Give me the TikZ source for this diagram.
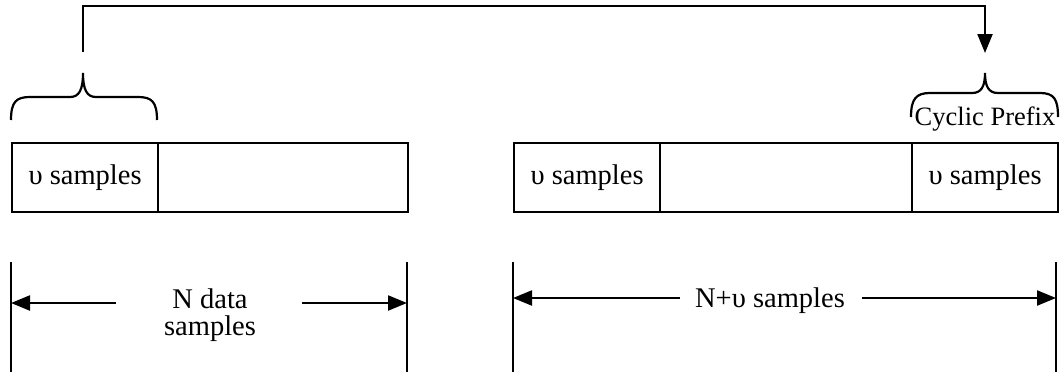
\documentclass[tikz,border=0pt]{standalone}
\usepackage{fontspec}
\setmainfont{Liberation Serif}
\usetikzlibrary{arrows.meta}
\begin{document}
\begin{tikzpicture}[x=1pt,y=-1pt,
  ln/.style={line width=2.2pt},
  cell/.style={draw,line width=2.2pt,minimum height=69pt,inner sep=0pt,anchor=north west},
  lbl/.style={font=\fontsize{28.5}{31}\selectfont,inner sep=0pt},
  tip/.style={-{Triangle[length=19pt,width=15pt]}}]
\useasboundingbox (0,0) rectangle (1060,375);
% left frame
\node[cell,minimum width=146pt] (a1) at (11,142) {};
\node[cell,minimum width=250pt] (a2) at (157,142) {};
\node[lbl] (ta1) at (a1.center) {υ samples};
% right frame
\node[cell,minimum width=146pt] (b1) at (513,142) {};
\node[cell,minimum width=252pt] (b2) at (659,142) {};
\node[cell,minimum width=146pt] (b3) at (911,142) {};
\node[lbl] (tb1) at (b1.center) {υ samples};
\node[lbl] (tb3) at (b3.center) {υ samples};
% braces
\draw[ln] (11,120) .. controls (11,102) and (16,97) .. (30,97) -- (70,97)
  .. controls (79,97) and (83,90) .. (83,73)
  .. controls (83,90) and (87,97) .. (96,97) -- (138,97)
  .. controls (152,97) and (157,102) .. (157,120);
\draw[ln] (911,117) .. controls (911,99) and (916,93) .. (930,93) -- (972,93)
  .. controls (981,93) and (985,87) .. (985,73)
  .. controls (985,87) and (989,93) .. (998,93) -- (1040,93)
  .. controls (1054,93) and (1058,99) .. (1058,117);
\node[lbl,font=\fontsize{26.5}{29}\selectfont,anchor=base] (cp) at (985,125) {Cyclic Prefix};
% top connector
\coordinate (src) at (83,52);
\coordinate (turn) at (83,6);
\coordinate (dst) at (985,53);
\draw[ln,tip] (src) -- (turn) -| (dst);
% left dimension
\coordinate (l1t) at (11,262); \coordinate (l1b) at (11,372);
\coordinate (l2t) at (407,262); \coordinate (l2b) at (407,372);
\draw[ln] (l1t) -- (l1b);
\draw[ln] (l2t) -- (l2b);
\coordinate (l1a) at (11,303); \coordinate (l2a) at (407,303);
\coordinate (la) at (116,303); \coordinate (lb) at (302,303);
\draw[ln,tip] (la) -- (l1a);
\draw[ln,tip] (lb) -- (l2a);
\node[lbl,anchor=base] (nd1) at (210,308) {N data};
\node[lbl,anchor=base] (nd2) at (210,335) {samples};
% right dimension
\coordinate (r1t) at (513,262); \coordinate (r1b) at (513,372);
\coordinate (r2t) at (1056,262); \coordinate (r2b) at (1056,372);
\draw[ln] (r1t) -- (r1b);
\draw[ln] (r2t) -- (r2b);
\coordinate (r1a) at (513,298); \coordinate (r2a) at (1056,298);
\coordinate (ra) at (680,298); \coordinate (rb) at (862,298);
\draw[ln,tip] (ra) -- (r1a);
\draw[ln,tip] (rb) -- (r2a);
\node[lbl,anchor=base] (nv) at (770,307) {N+υ samples};
\end{tikzpicture}
\end{document}
